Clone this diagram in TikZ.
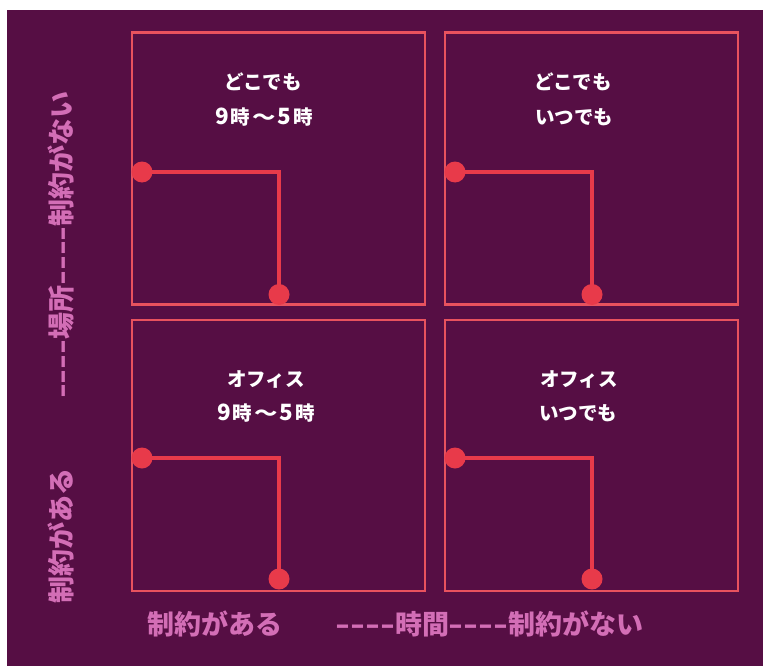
\documentclass[tikz,border=0pt]{standalone}
\usepackage{fontspec}
\setmainfont{Noto Sans CJK JP}
\definecolor{bgc}{HTML}{560E44}
\definecolor{boxc}{HTML}{E8525E}
\definecolor{conc}{HTML}{E83A4A}
\definecolor{labc}{HTML}{D36EB6}
\newcommand\hy{\makebox[0.55em]{\scalebox{1.45}[1]{-}}}
\newcommand\gapsp{\hspace{0.1em}}
\newcommand\dig[1]{\scalebox{1.15}{#1}}
\tikzset{
  panel/.style={draw=boxc, line width=2.3bp, minimum width=293bp, inner sep=0pt},
  dot/.style={circle, fill=conc, minimum size=21bp, inner sep=0pt},
  conn/.style={draw=conc, line width=4.7bp},
  celltext/.style={text=white, font=\fontsize{19.5bp}{23bp}\selectfont\bfseries, inner sep=0pt},
  axlab/.style={text=labc, font=\fontsize{27bp}{30bp}\selectfont\bfseries, inner sep=0pt}
}
\begin{document}
\begin{tikzpicture}[x=1bp,y=-1bp]
\useasboundingbox (0,0) rectangle (763,666);
\fill[white] (0,0) rectangle (763,666);
\fill[bgc] (7,10) rectangle (763,666);
% panels
\node[panel, minimum height=272bp] (p1) at (278.7,168.6) {};
\node[panel, minimum height=272bp] (p2) at (591.3,168.6) {};
\node[panel, minimum height=271bp] (p3) at (278.7,455.5) {};
\node[panel, minimum height=271bp] (p4) at (591.3,455.5) {};
% texts
\node[celltext] (t1a) at (263,82) {どこでも};
\node[celltext] (t1b) at (264,117) {\dig{9}\gapsp 時\gapsp\scalebox{1.2}[1]{～}\gapsp\dig{5}\gapsp 時};
\node[celltext] (t2a) at (573,82) {どこでも};
\node[celltext] (t2b) at (574,117) {いつでも};
\node[celltext] (t3a) at (266,379) {オフィス};
\node[celltext] (t3b) at (266,413) {\dig{9}\gapsp 時\gapsp\scalebox{1.2}[1]{～}\gapsp\dig{5}\gapsp 時};
\node[celltext] (t4a) at (579,379) {オフィス};
\node[celltext] (t4b) at (578,413) {いつでも};
% connectors
\coordinate (c1a) at (142,172); \coordinate (c1b) at (279,294.5);
\coordinate (c2a) at (455,172); \coordinate (c2b) at (592,294.5);
\coordinate (c3a) at (142,458); \coordinate (c3b) at (279,579);
\coordinate (c4a) at (455,458); \coordinate (c4b) at (592,579);
\foreach \i in {1,2,3,4}{
  \draw[conn] (c\i a) -| (c\i b);
  \node[dot] (d\i a) at (c\i a) {};
  \node[dot] (d\i b) at (c\i b) {};
}
% axis labels
\node[axlab] (xl1) at (214.5,624) {制約がある};
\node[axlab] (xl2) at (489.5,624) {\hy\hy\hy\hy 時間\hy\hy\hy\hy 制約がない};
\node[axlab, rotate=90] (yl1) at (61,245) {\hy\hy\hy\hy 場所\hy\hy\hy\hy 制約がない};
\node[axlab, rotate=90] (yl2) at (61,536) {制約がある};
\end{tikzpicture}
\end{document}
